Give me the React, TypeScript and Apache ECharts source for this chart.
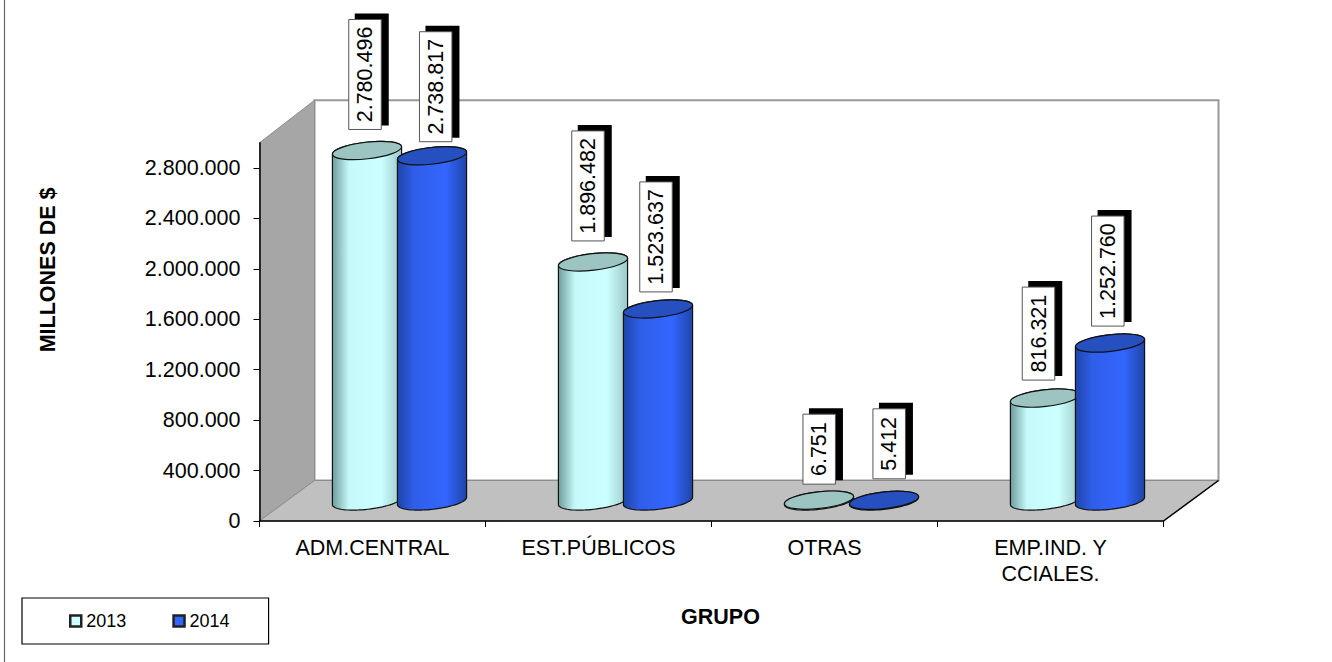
import React, { useEffect, useRef } from "react";
import * as echarts from "echarts";

const categories = ["ADM.CENTRAL", "EST.PÚBLICOS", "OTRAS", "EMP.IND. Y\nCCIALES."];
const values2013 = [2780496, 1896482, 6751, 816321];
const values2014 = [2738817, 1523637, 5412, 1252760];
const yTicks = [0, 400000, 800000, 1200000, 1600000, 2000000, 2400000, 2800000];

const G = { left: 259.5, top: 142.8, width: 904, bottom: 521 };
const DEPTH_X = 55;
const DEPTH_Y = 40.5;
const FONT = "'Liberation Sans', Arial, sans-serif";
const FONT_SIZE = 21.5;

const fmt = (v: number) => String(v).replace(/\B(?=(\d{3})+(?!\d))/g, ".");

const LABEL_LEN: Record<number, number> = { 5: 70, 7: 93, 9: 110 };
const labelShift2013 = [[-2, -21], [-5, -21], [0.2, -16], [-6.5, -18]];
const labelShift2014 = [[3.7, -14], [-2, -17], [5.2, -21.5], [-2.2, -17]];

const RX = 34.8;
const RY = 8.3;
const TILT = (6.4 * Math.PI) / 180;

// One point of a cylinder's tilted ellipse at parameter t.
function rim(cx: number, cy: number, t: number): number[] {
  return [
    cx + RX * Math.cos(t) * Math.cos(TILT) + RY * Math.sin(t) * Math.sin(TILT),
    cy - RX * Math.cos(t) * Math.sin(TILT) + RY * Math.sin(t) * Math.cos(TILT),
  ];
}

function cylinder(
  seriesOffset: number,
  grad: [string, string, string, string],
  topFill: string,
  shift: number[][]
) {
  return (params: any, api: any) => {
    const idx = api.value(0);
    const val = api.value(1);
    const base = api.coord([idx, 0]);
    const top = api.coord([idx, val]);
    const cx = base[0] - 5.5 + seriesOffset;
    const by = base[1] - 20;
    const ty = top[1] - 20;
    const points: number[][] = [];
    const N = 36;
    for (let i = 0; i <= N; i++) points.push(rim(cx, by, Math.PI - (Math.PI * i) / N));
    for (let i = 0; i <= N; i++) points.push(rim(cx, ty, -(Math.PI * i) / N));
    const text = fmt(val);
    const len = LABEL_LEN[text.length] || 70;
    const [dx, dy] = shift[idx];
    const bcx = cx + dx;
    const bBottom = ty + dy;
    const bw = 32.5;
    return {
      type: "group",
      children: [
        {
          type: "polygon",
          shape: { points },
          style: {
            fill: new echarts.graphic.LinearGradient(0, 0, 1, 0, [
              { offset: 0, color: grad[0] },
              { offset: 0.24, color: grad[1] },
              { offset: 0.7, color: grad[2] },
              { offset: 1, color: grad[3] },
            ]),
            stroke: "#111",
            lineWidth: 1.2,
          },
        },
        {
          type: "ellipse",
          x: cx,
          y: ty,
          rotation: TILT,
          shape: { cx: 0, cy: 0, rx: RX, ry: RY },
          style: { fill: topFill, stroke: "#111", lineWidth: 1.2 },
        },
        {
          type: "rect",
          shape: { x: bcx - bw / 2 + 6, y: bBottom - len - 6, width: bw + 1.5, height: len + 2 },
          style: { fill: "#000" },
        },
        {
          type: "rect",
          shape: { x: bcx - bw / 2, y: bBottom - len, width: bw, height: len },
          style: { fill: "#fff", stroke: "#555", lineWidth: 1 },
        },
        {
          type: "text",
          x: bcx,
          y: bBottom - len / 2,
          rotation: Math.PI / 2,
          style: {
            text,
            align: "center",
            verticalAlign: "middle",
            fontFamily: FONT,
            fontSize: FONT_SIZE,
            fill: "#000",
          },
        },
      ],
    };
  };
}

export default function App() {
  const ref = useRef<HTMLDivElement>(null);
  useEffect(() => {
    const chart = echarts.init(ref.current!, undefined, { renderer: "svg" });
    const gR = G.left + G.width;
    const backL = G.left + DEPTH_X;
    const backR = gR + DEPTH_X;
    const backB = G.bottom - DEPTH_Y;
    const backT = G.top - 42.5;
    chart.setOption({
      animation: false,
      backgroundColor: "#fff",
      textStyle: { fontFamily: FONT },
      grid: {
        left: G.left,
        top: G.top,
        width: G.width,
        height: G.bottom - G.top,
        containLabel: false,
        outerBoundsMode: "none",
      },
      legend: {
        left: 22,
        top: 598,
        padding: [14, 39, 14, 47],
        itemWidth: 11,
        itemHeight: 11,
        itemGap: 46,
        borderColor: "#000",
        borderWidth: 1.2,
        backgroundColor: "#fff",
        icon: "rect",
        textStyle: { fontSize: 18, color: "#000", fontFamily: FONT },
        data: [
          { name: "2013", itemStyle: { color: "#ccffff", borderColor: "#222", borderWidth: 2.5 } },
          { name: "2014", itemStyle: { color: "#3366ff", borderColor: "#222", borderWidth: 2.5 } },
        ],
      },
      xAxis: {
        type: "category",
        data: categories,
        z: 5,
        axisLine: { lineStyle: { color: "#000", width: 1.5 } },
        axisTick: { show: true, alignWithLabel: false, length: 6, lineStyle: { color: "#000" } },
        axisLabel: {
          fontSize: FONT_SIZE,
          color: "#000",
          lineHeight: 26,
          margin: 14,
          fontFamily: FONT,
          interval: 0,
        },
        name: "GRUPO",
        nameLocation: "middle",
        nameGap: 85,
        nameTextStyle: { fontSize: FONT_SIZE, fontWeight: "bold", color: "#000", padding: [0, 0, 0, 18], fontFamily: FONT },
      },
      yAxis: {
        type: "value",
        min: 0,
        max: 3000000,
        interval: 400000,
        z: 5,
        splitLine: { show: false },
        axisLine: { show: true, lineStyle: { color: "#000", width: 1.5 } },
        axisTick: { show: true, length: 6, customValues: yTicks, lineStyle: { color: "#000" } },
        axisLabel: {
          fontSize: FONT_SIZE,
          color: "#000",
          margin: 19,
          padding: [2, 0, 0, 0],
          fontFamily: FONT,
          customValues: yTicks,
          formatter: (v: number) => fmt(v),
        },
        name: "MILLONES DE $",
        nameLocation: "middle",
        nameGap: 201,
        nameRotate: 90,
        nameTextStyle: { fontSize: FONT_SIZE, fontWeight: "bold", color: "#000", padding: [0, 0, 0, 124], fontFamily: FONT },
      },
      graphic: [
        {
          type: "line",
          z: 0,
          shape: { x1: 4.5, y1: 0, x2: 4.5, y2: 662 },
          style: { stroke: "#666", lineWidth: 1.2 },
        },
        {
          type: "rect",
          z: 0,
          shape: { x: backL, y: backT, width: backR - backL, height: backB - backT },
          style: { fill: "#fff", stroke: "#999", lineWidth: 2 },
        },
        {
          type: "polygon",
          z: 0,
          shape: { points: [[G.left, G.top], [backL, backT], [backL, backB], [G.left, G.bottom]] },
          style: { fill: "#a6a6a6", stroke: "#8c8c8c", lineWidth: 1 },
        },
        {
          type: "polygon",
          z: 0,
          shape: { points: [[G.left, G.bottom], [backL, backB], [backR, backB], [gR, G.bottom]] },
          style: { fill: "#c0c0c0", stroke: "#8c8c8c", lineWidth: 1 },
        },
        {
          type: "line",
          z: 1,
          shape: { x1: gR, y1: G.bottom, x2: backR, y2: backB },
          style: { stroke: "#000", lineWidth: 1.5 },
        },
      ],
      series: [
        {
          name: "2013",
          type: "custom",
          z: 6,
          renderItem: cylinder(0, ["#6f9c9c", "#c6fafa", "#ccffff", "#9cc8c8"], "#9cc5c2", labelShift2013),
          encode: { x: 0, y: 1 },
          data: values2013.map((v, i) => [i, v]),
          itemStyle: { color: "#ccffff" },
        },
        {
          name: "2014",
          type: "custom",
          z: 7,
          renderItem: cylinder(65, ["#1f45a8", "#2f5ee8", "#3366ff", "#1f45a8"], "#2650c0", labelShift2014),
          encode: { x: 0, y: 1 },
          data: values2014.map((v, i) => [i, v]),
          itemStyle: { color: "#3366ff" },
        },
      ],
    });
    return () => chart.dispose();
  }, []);
  return (
    <div
      ref={ref}
      style={{ position: "fixed", left: 0, top: 0, width: 1332, height: 662 }}
    />
  );
}
